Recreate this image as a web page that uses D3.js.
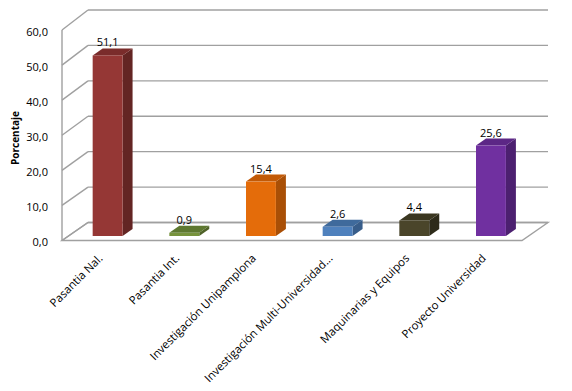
<!DOCTYPE html>
<html><head><meta charset="utf-8">
<script src="https://cdn.jsdelivr.net/npm/d3@7"></script>
<style>html,body{margin:0;padding:0;background:#fff}svg{display:block}text{font-family:"Open Sans",sans-serif}</style>
</head><body><svg id="c" width="572" height="391"></svg>
<script>
const categories = ["Pasantia Nal.","Pasantia Int.","Investigación Unipamplona","Investigación Multi-Universidad...","Maquinarias y Equipos","Proyecto Universidad"];
const values = [51.1, 0.9, 15.4, 2.6, 4.4, 25.6];
const tickValues = [0,10,20,30,40,50,60];
const yTitle = "Porcentaje";
const palette = [
  {front:"#953735", side:"#632523", top:"#7a2c2b"},
  {front:"#77933c", side:"#4f6228", top:"#5e7830"},
  {front:"#e46c0a", side:"#a94f06", top:"#c25a07"},
  {front:"#4f81bd", side:"#385d8a", top:"#3f6a9c"},
  {front:"#4a452a", side:"#2e2b1a", top:"#3b3721"},
  {front:"#7030a0", side:"#4c2070", top:"#5c2786"}
];

const svg = d3.select("#c");
const fmt = v => d3.format(".1f")(v).replace(".", ",");

const x = d3.scaleBand().domain(categories).range([62, 522]);
const yFront = d3.scaleLinear().domain([0, 60]).range([240.5, 30]);
const yBack = d3.scaleLinear().domain([0, 60]).range([222.5, 10]);
const yBar = d3.scaleLinear().domain([0, 60]).range([236, 24]);
const DX = 26;
const BDX = 10, BDY = -7;
const grid = "#a0a0a0";

const g = svg.append("g");
g.append("path")
  .attr("d", `M${x.range()[0]},${yFront(0)} L${x.range()[1]},${yFront(0)} L${x.range()[1]+DX},${yBack(0)} L${x.range()[0]+DX},${yBack(0)} Z`)
  .attr("fill", "#fff").attr("stroke", grid).attr("stroke-width", 1.4);
tickValues.forEach(t => {
  g.append("line").attr("x1", x.range()[0]+DX).attr("x2", x.range()[1]+DX)
    .attr("y1", yBack(t)).attr("y2", yBack(t)).attr("stroke", grid).attr("stroke-width", 1.4);
  g.append("line").attr("x1", x.range()[0]).attr("x2", x.range()[0]+DX)
    .attr("y1", yFront(t)).attr("y2", yBack(t)).attr("stroke", grid).attr("stroke-width", 1.4);
});
g.append("line").attr("x1", x.range()[0]).attr("x2", x.range()[0])
  .attr("y1", yFront(60)).attr("y2", yFront(0)).attr("stroke", grid).attr("stroke-width", 1.4);

svg.append("g").selectAll("text").data(tickValues).join("text")
  .attr("x", 48).attr("y", d => yFront(d) + 2).attr("dy", "0.35em")
  .attr("text-anchor", "end").attr("font-size", 11).attr("fill", "#000")
  .text(fmt);

svg.append("text").attr("transform", "translate(19,138) rotate(-90)")
  .attr("text-anchor", "middle").attr("font-size", 10).attr("font-weight", "bold")
  .text(yTitle);

const bw = x.bandwidth() * 0.39;
const bars = svg.append("g").selectAll("g").data(categories).join("g");
bars.each(function(c, i) {
  const sel = d3.select(this);
  const x0 = x(c) + x.bandwidth() * 0.4, x1 = x0 + bw;
  const y0 = yBar(0), y1 = yBar(values[i]);
  const col = palette[i];
  sel.append("path").attr("d", `M${x1},${y1} L${x1+BDX},${y1+BDY} L${x1+BDX},${y0+BDY} L${x1},${y0} Z`).attr("fill", col.side);
  sel.append("path").attr("d", `M${x0},${y1} L${x0+BDX},${y1+BDY} L${x1+BDX},${y1+BDY} L${x1},${y1} Z`).attr("fill", col.top);
  sel.append("rect").attr("x", x0).attr("y", y1).attr("width", bw).attr("height", y0 - y1).attr("fill", col.front);
  sel.append("text").attr("x", (x0 + x1) / 2).attr("y", y1 + BDY - 2)
    .attr("text-anchor", "middle").attr("font-size", 11).text(fmt(values[i]));
});

svg.append("g").selectAll("text").data(categories).join("text")
  .attr("transform", c => `translate(${x(c) + x.bandwidth()/2 + 3},${259}) rotate(-45)`)
  .attr("text-anchor", "end").attr("font-size", 11.4).attr("fill", "#000")
  .text(d => d);
</script></body></html>
